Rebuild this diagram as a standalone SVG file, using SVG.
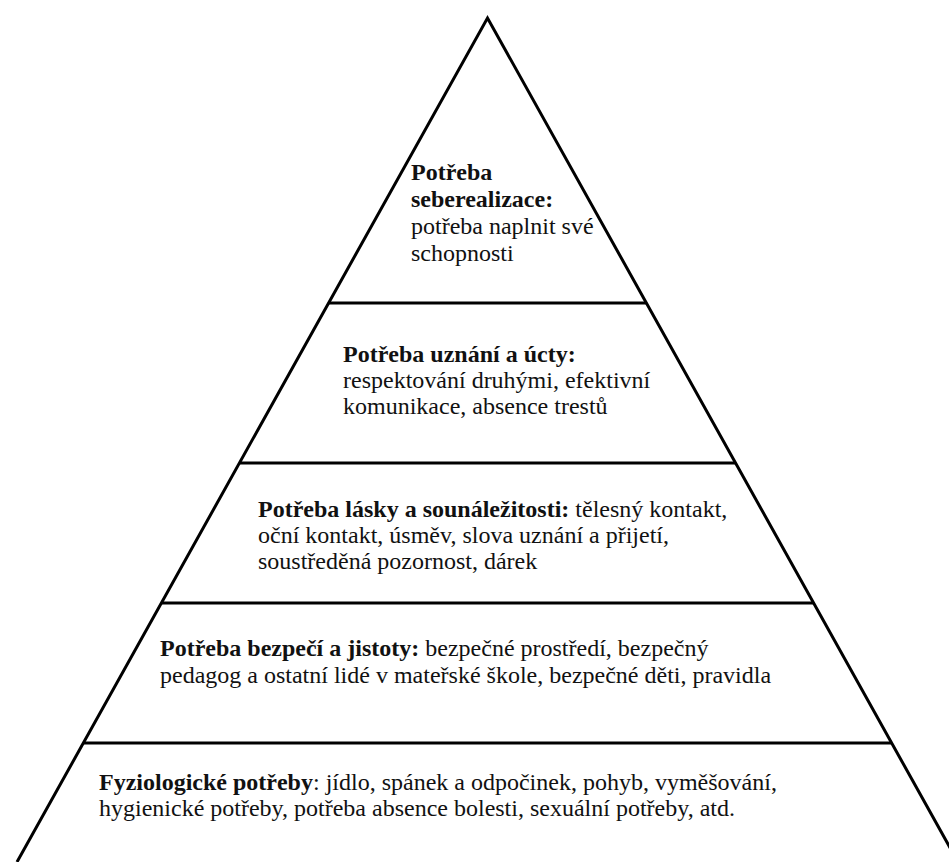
<svg xmlns="http://www.w3.org/2000/svg" width="949" height="862" viewBox="0 0 949 862">
<style>
.ln{stroke:#000;stroke-width:3;fill:none;stroke-linejoin:miter;stroke-linecap:butt}
text{font-family:"Liberation Serif","Times New Roman",serif;font-size:24px;fill:#111}
.b{font-weight:bold}
</style>
<rect width="949" height="862" fill="#fff"/>
<g id="pyramid-outline">
<polyline class="ln" points="17,862 487.5,18 958,862"/>
</g>
<g id="dividers">
<line class="ln" x1="329" y1="303" x2="646" y2="303"/>
<line class="ln" x1="240" y1="463" x2="735" y2="463"/>
<line class="ln" x1="162" y1="603" x2="813" y2="603"/>
<line class="ln" x1="84" y1="743" x2="891" y2="743"/>
</g>
<g id="tier-seberealizace">
<text x="411" y="180" class="b">Potřeba</text>
<text x="411" y="207" class="b">seberealizace:</text>
<text x="411" y="234">potřeba naplnit své</text>
<text x="411" y="261">schopnosti</text>
</g>
<g id="tier-uznani">
<text x="343" y="362" class="b">Potřeba uznání a úcty:</text>
<text x="343" y="388">respektování druhými, efektivní</text>
<text x="343" y="414">komunikace, absence trestů</text>
</g>
<g id="tier-lasky">
<text x="258" y="517"><tspan class="b">Potřeba lásky a sounáležitosti:</tspan> tělesný kontakt,</text>
<text x="258" y="543">oční kontakt, úsměv, slova uznání a přijetí,</text>
<text x="258" y="569">soustředěná pozornost, dárek</text>
</g>
<g id="tier-bezpeci">
<text x="160" y="656"><tspan class="b">Potřeba bezpečí a jistoty:</tspan> bezpečné prostředí, bezpečný</text>
<text x="160" y="683">pedagog a ostatní lidé v mateřské škole, bezpečné děti, pravidla</text>
</g>
<g id="tier-fyziologicke">
<text x="99" y="790"><tspan class="b">Fyziologické potřeby</tspan>: jídlo, spánek a odpočinek, pohyb, vyměšování,</text>
<text x="99" y="816">hygienické potřeby, potřeba absence bolesti, sexuální potřeby, atd.</text>
</g>
</svg>
